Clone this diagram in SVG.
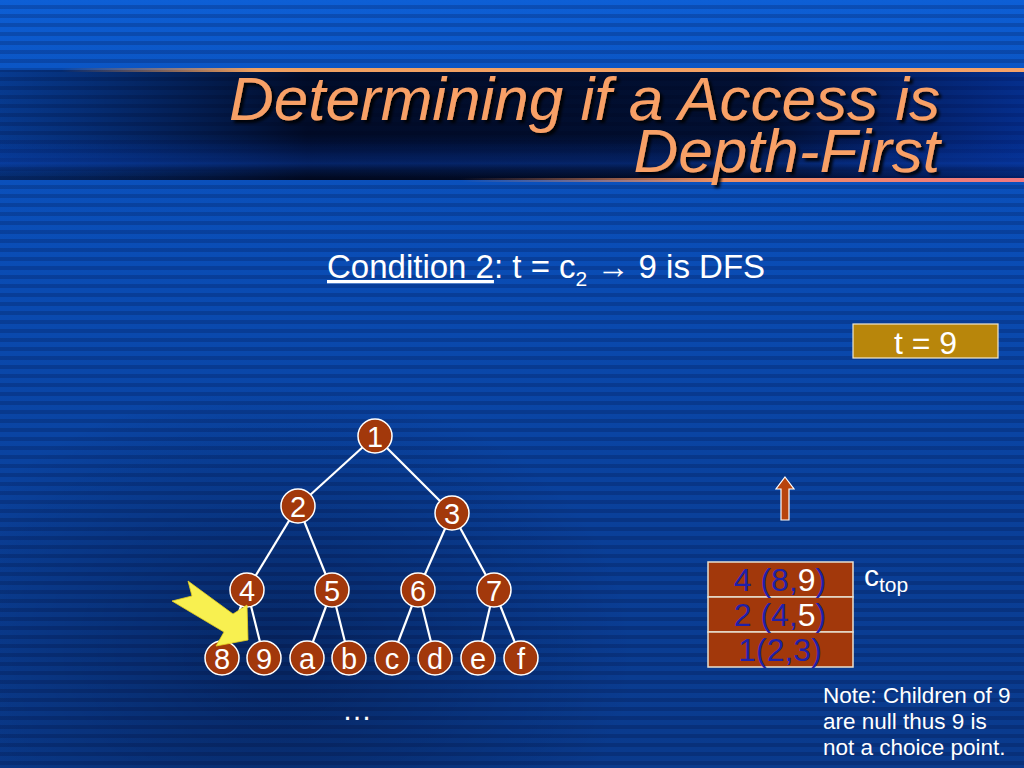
<svg xmlns="http://www.w3.org/2000/svg" width="1024" height="768" viewBox="0 0 1024 768">
<defs>
<linearGradient id="bg" x1="0" y1="0" x2="0" y2="1">
<stop offset="0" stop-color="#0d5fd6"/>
<stop offset="0.09" stop-color="#0b55c4"/>
<stop offset="0.35" stop-color="#0a4cb4"/>
<stop offset="0.7" stop-color="#0a3f98"/>
<stop offset="1" stop-color="#0a3a8c"/>
</linearGradient>
<linearGradient id="band" x1="0" y1="0" x2="1" y2="0">
<stop offset="0" stop-color="#000a30" stop-opacity="0.35"/>
<stop offset="0.3" stop-color="#000418" stop-opacity="0.9"/>
<stop offset="0.75" stop-color="#00041a" stop-opacity="0.85"/>
<stop offset="1" stop-color="#001060" stop-opacity="0.55"/>
</linearGradient>
<linearGradient id="bandV" x1="0" y1="0" x2="0" y2="1">
<stop offset="0" stop-color="#000000" stop-opacity="0"/>
<stop offset="0.6" stop-color="#0030a0" stop-opacity="0"/>
<stop offset="0.85" stop-color="#0a40b0" stop-opacity="0.45"/>
<stop offset="1" stop-color="#000000" stop-opacity="0.2"/>
</linearGradient>
<linearGradient id="lineTop" x1="0" y1="0" x2="1" y2="0">
<stop offset="0.06" stop-color="#f0a060" stop-opacity="0"/>
<stop offset="0.25" stop-color="#f0a060" stop-opacity="1"/>
<stop offset="1" stop-color="#f6a268" stop-opacity="1"/>
</linearGradient>
<linearGradient id="lineBot" x1="0" y1="0" x2="1" y2="0">
<stop offset="0.45" stop-color="#f08c60" stop-opacity="0"/>
<stop offset="0.7" stop-color="#f09060" stop-opacity="1"/>
<stop offset="1" stop-color="#f07880" stop-opacity="1"/>
</linearGradient>
<radialGradient id="shade" cx="0.27" cy="0.85" r="0.35">
<stop offset="0" stop-color="#000010" stop-opacity="0.35"/>
<stop offset="1" stop-color="#000010" stop-opacity="0"/>
</radialGradient>
<pattern id="stripes" patternUnits="userSpaceOnUse" width="16" height="9">
<rect x="0" y="5" width="16" height="4" fill="#000020" opacity="0.18"/>
</pattern>
<filter id="shadow" x="-5%" y="-20%" width="110%" height="140%">
<feDropShadow dx="3" dy="3" stdDeviation="1.5" flood-color="#000000" flood-opacity="0.9"/>
</filter>
<style>
.title{font-family:"Liberation Sans",Arial,sans-serif;font-style:italic;font-size:62px;fill:#f8a066;}
.txt{font-family:"Liberation Sans",Arial,sans-serif;fill:#ffffff;}
.node circle{fill:#a2380b;stroke:#ffffff;stroke-width:1.5;}
.node text{font-family:"Liberation Sans",Arial,sans-serif;font-size:29px;fill:#ffffff;text-anchor:middle;}
.edges line{stroke:#ffffff;stroke-width:2.2;}
.stack rect{fill:#a2380b;stroke:#e8e0d0;stroke-width:1.5;}
.stack text{font-family:"Liberation Sans",Arial,sans-serif;font-size:32px;fill:#2020a8;text-anchor:middle;}
.hl{fill:#ffffff;}
</style>
</defs>

<!-- background -->
<rect x="0" y="0" width="1024" height="768" fill="url(#bg)"/>
<rect x="0" y="0" width="1024" height="768" fill="url(#shade)"/>
<rect x="0" y="0" width="1024" height="768" fill="url(#stripes)"/>
<rect x="0" y="70" width="1024" height="110" fill="url(#band)"/>
<rect x="0" y="70" width="1024" height="110" fill="url(#bandV)"/>
<rect x="0" y="68" width="1024" height="4" fill="url(#lineTop)"/>
<rect x="0" y="178" width="1024" height="4" fill="url(#lineBot)"/>

<!-- title -->
<g id="title" filter="url(#shadow)">
<text class="title" x="940" y="120" text-anchor="end">Determining if a Access is</text>
<text class="title" x="940" y="172" text-anchor="end">Depth-First</text>
</g>

<!-- condition -->
<g id="condition">
<text class="txt" x="327" y="278" font-size="33"><tspan text-decoration="underline">Condition 2</tspan>: t = c<tspan font-size="21" dy="8">2</tspan><tspan dy="-8"> → 9 is DFS</tspan></text>
</g>

<!-- t = 9 box -->
<g id="tbox">
<rect x="853" y="324" width="145" height="34" fill="#b8860b" stroke="#f0e8d0" stroke-width="1.2"/>
<text class="txt" x="925.5" y="354" font-size="32" text-anchor="middle">t = 9</text>
</g>

<!-- edges -->
<g id="edges" class="edges">
<line x1="375" y1="436" x2="298" y2="506"/>
<line x1="375" y1="436" x2="452" y2="513"/>
<line x1="298" y1="506" x2="247" y2="590"/>
<line x1="298" y1="506" x2="332" y2="590"/>
<line x1="452" y1="513" x2="418" y2="590"/>
<line x1="452" y1="513" x2="494" y2="590"/>
<line x1="247" y1="590" x2="222" y2="658"/>
<line x1="247" y1="590" x2="264" y2="658"/>
<line x1="332" y1="590" x2="307" y2="658"/>
<line x1="332" y1="590" x2="349" y2="658"/>
<line x1="418" y1="590" x2="392" y2="658"/>
<line x1="418" y1="590" x2="435" y2="658"/>
<line x1="494" y1="590" x2="478" y2="658"/>
<line x1="494" y1="590" x2="521" y2="658"/>
</g>

<!-- nodes -->
<g id="n1" class="node"><circle cx="375" cy="436" r="17"/><text x="375" y="446.5">1</text></g>
<g id="n2" class="node"><circle cx="298" cy="506" r="17"/><text x="298" y="516.5">2</text></g>
<g id="n3" class="node"><circle cx="452" cy="513" r="17"/><text x="452" y="523.5">3</text></g>
<g id="n4" class="node"><circle cx="247" cy="590" r="17"/><text x="247" y="600.5">4</text></g>
<g id="n5" class="node"><circle cx="332" cy="590" r="17"/><text x="332" y="600.5">5</text></g>
<g id="n6" class="node"><circle cx="418" cy="590" r="17"/><text x="418" y="600.5">6</text></g>
<g id="n7" class="node"><circle cx="494" cy="590" r="17"/><text x="494" y="600.5">7</text></g>
<g id="n8" class="node"><circle cx="222" cy="658" r="17"/><text x="222" y="668.5">8</text></g>
<g id="n9" class="node"><circle cx="264" cy="658" r="17"/><text x="264" y="668.5">9</text></g>
<g id="na" class="node"><circle cx="307" cy="658" r="17"/><text x="307" y="668.5">a</text></g>
<g id="nb" class="node"><circle cx="349" cy="658" r="17"/><text x="349" y="668.5">b</text></g>
<g id="nc" class="node"><circle cx="392" cy="658" r="17"/><text x="392" y="668.5">c</text></g>
<g id="nd" class="node"><circle cx="435" cy="658" r="17"/><text x="435" y="668.5">d</text></g>
<g id="ne" class="node"><circle cx="478" cy="658" r="17"/><text x="478" y="668.5">e</text></g>
<g id="nf" class="node"><circle cx="521" cy="658" r="17"/><text x="521" y="668.5">f</text></g>

<!-- yellow pointer arrow -->
<g id="pointer">
<polygon points="188,581 233,614 247,605 248,640 216,646 224,632 172,601 192,596" fill="#f8f050" stroke="#e8d020" stroke-width="0.8"/>
</g>

<text class="txt" x="357" y="720" font-size="30" text-anchor="middle">…</text>

<!-- up arrow -->
<g id="uparrow">
<polygon points="785,477 794,489 789,489 789,520 781,520 781,489 776,489" fill="#b8440e" stroke="#ffffff" stroke-width="1.2"/>
</g>

<!-- stack -->
<g id="stack" class="stack">
<rect x="708" y="562" width="145" height="35"/>
<rect x="708" y="597" width="145" height="35"/>
<rect x="708" y="632" width="145" height="35"/>
<text x="780" y="591">4 (8,<tspan class="hl">9</tspan>)</text>
<text x="780" y="626">2 (4,<tspan class="hl">5</tspan>)</text>
<text x="780" y="661">1(2,3)</text>
</g>
<g id="ctop">
<text class="txt" x="864" y="586" font-size="30">c<tspan font-size="21" dy="6">top</tspan></text>
</g>

<!-- note -->
<g id="note">
<text class="txt" x="823" y="703" font-size="22.5">Note: Children of 9</text>
<text class="txt" x="823" y="729" font-size="22.5">are null thus 9 is</text>
<text class="txt" x="823" y="755" font-size="22.5">not a choice point.</text>
</g>
</svg>
